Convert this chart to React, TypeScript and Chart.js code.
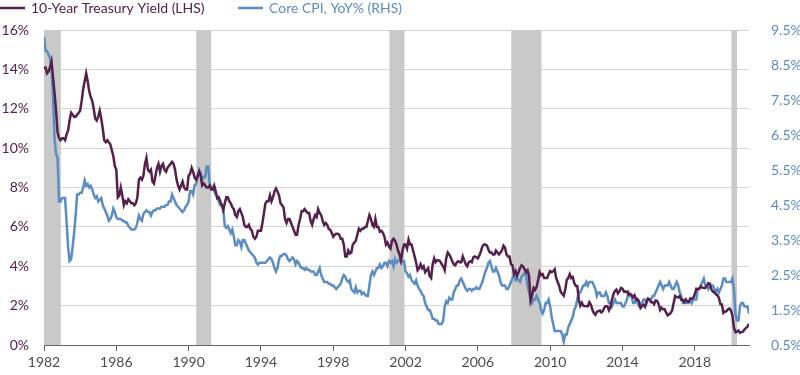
import React, { useEffect, useRef } from "react";
import { Chart, registerables } from "chart.js";

Chart.register(...registerables);

// Monthly observations, Jan 1982 .. Jan 2021
const START_YEAR = 1982;

const TREASURY_10Y = [
  14.1, 14.1, 13.8, 13.9, 14.1, 14.4, 13.6, 12.8, 11.9, 10.8, 10.5, 10.4,
  10.5, 10.5, 10.4, 10.7, 10.9, 11.4, 11.8, 11.7, 11.6, 11.6, 11.7, 11.8,
  11.9, 12.4, 13.0, 13.4, 13.8, 13.4, 12.9, 12.6, 12.4, 12.0, 11.5, 11.4,
  11.6, 11.9, 11.5, 11.0, 10.4, 10.3, 10.4, 10.3, 10.2, 9.9, 9.6, 9.1,
  8.9, 7.5, 7.6, 8.0, 7.6, 7.1, 7.3, 7.2, 7.4, 7.3, 7.2, 7.2,
  7.1, 7.2, 7.5, 8.4, 8.5, 8.4, 8.6, 9.2, 9.5, 8.9, 8.8, 8.9,
  8.3, 8.2, 8.6, 9.0, 9.2, 8.8, 9.1, 9.2, 8.9, 8.8, 9.0, 9.1,
  9.2, 9.3, 9.2, 8.9, 8.4, 8.1, 7.9, 8.1, 8.3, 8.0, 7.9, 7.9,
  8.6, 8.7, 9.0, 8.8, 8.5, 8.4, 8.6, 8.8, 8.6, 8.1, 8.2, 8.1,
  8.0, 8.0, 8.1, 7.9, 7.9, 8.1, 7.8, 7.45, 7.5, 7.3, 7.1, 6.85,
  7.2, 7.5, 7.5, 7.3, 7.2, 7.0, 6.9, 6.6, 6.5, 6.8, 6.9, 6.7,
  6.5, 6.1, 6.0, 6.0, 6.1, 5.9, 5.8, 5.5, 5.4, 5.5, 5.8, 5.8,
  5.8, 6.2, 6.7, 7.2, 7.3, 7.3, 7.6, 7.3, 7.5, 7.8, 7.95, 7.8,
  7.6, 7.2, 7.1, 7.0, 6.4, 6.2, 6.4, 6.4, 6.2, 6.0, 5.8, 5.6,
  5.6, 6.1, 6.4, 6.8, 6.8, 6.9, 6.8, 6.7, 6.7, 6.3, 6.1, 6.4,
  6.6, 6.5, 6.9, 6.7, 6.6, 6.3, 6.1, 6.2, 6.1, 5.9, 5.85, 5.7,
  5.5, 5.6, 5.65, 5.65, 5.6, 5.4, 5.4, 5.1, 4.5, 4.5, 4.8, 4.65,
  4.7, 5.1, 5.2, 5.3, 5.6, 5.9, 5.8, 5.9, 5.9, 6.0, 6.0, 6.3,
  6.6, 6.4, 6.1, 6.0, 6.4, 6.0, 6.0, 5.75, 5.8, 5.7, 5.5, 5.1,
  5.2, 5.0, 4.9, 5.3, 5.4, 5.3, 5.1, 4.8, 4.6, 4.3, 4.8, 5.1,
  5.1, 4.9, 5.35, 5.1, 5.1, 4.8, 4.5, 4.2, 3.8, 3.9, 4.1, 3.9,
  4.0, 3.7, 3.8, 3.9, 3.5, 3.4, 4.1, 4.4, 4.2, 4.3, 4.3, 4.25,
  4.1, 4.0, 3.8, 4.4, 4.7, 4.6, 4.45, 4.25, 4.1, 4.05, 4.2, 4.25,
  4.2, 4.2, 4.5, 4.3, 4.1, 4.0, 4.2, 4.25, 4.2, 4.45, 4.5, 4.45,
  4.4, 4.55, 4.75, 5.0, 5.1, 5.1, 5.05, 4.85, 4.7, 4.7, 4.6, 4.6,
  4.8, 4.7, 4.6, 4.7, 4.8, 5.05, 4.95, 4.6, 4.5, 4.5, 4.1, 4.05,
  3.6, 3.75, 3.5, 3.7, 3.9, 4.05, 4.0, 3.85, 3.7, 3.8, 3.5, 2.25,
  2.5, 2.9, 2.8, 2.95, 3.3, 3.7, 3.55, 3.6, 3.4, 3.4, 3.4, 3.6,
  3.75, 3.7, 3.75, 3.85, 3.4, 3.2, 3.0, 2.7, 2.6, 2.5, 2.8, 3.3,
  3.4, 3.6, 3.4, 3.45, 3.15, 3.0, 3.0, 2.3, 2.0, 2.15, 2.0, 1.98,
  1.97, 1.97, 2.17, 2.05, 1.8, 1.62, 1.53, 1.68, 1.72, 1.75, 1.65, 1.72,
  1.91, 1.98, 1.96, 1.76, 1.93, 2.3, 2.58, 2.74, 2.81, 2.62, 2.72, 2.9,
  2.86, 2.71, 2.72, 2.71, 2.56, 2.6, 2.54, 2.42, 2.53, 2.3, 2.33, 2.21,
  1.88, 1.98, 2.04, 1.94, 2.2, 2.36, 2.32, 2.17, 2.17, 2.07, 2.26, 2.24,
  2.09, 1.78, 1.89, 1.81, 1.81, 1.64, 1.5, 1.56, 1.63, 1.76, 2.14, 2.49,
  2.43, 2.42, 2.48, 2.3, 2.3, 2.19, 2.32, 2.21, 2.2, 2.36, 2.35, 2.4,
  2.58, 2.86, 2.84, 2.87, 2.98, 2.91, 2.89, 2.89, 3.0, 3.15, 3.12, 2.83,
  2.71, 2.68, 2.57, 2.53, 2.4, 2.07, 2.06, 1.63, 1.7, 1.71, 1.81, 1.86,
  1.76, 1.5, 0.87, 0.66, 0.67, 0.73, 0.62, 0.65, 0.68, 0.79, 0.87, 0.93,
  1.08,
];

const CORE_CPI_YOY = [
  9.3, 8.9, 8.9, 8.8, 8.7, 8.4, 7.6, 6.4, 5.95, 5.85, 4.6, 4.6,
  4.7, 4.7, 4.7, 4.0, 3.3, 2.9, 2.95, 3.3, 3.7, 4.2, 4.8, 4.8,
  4.85, 4.85, 5.0, 5.2, 5.05, 5.1, 5.0, 5.05, 4.95, 4.8, 4.7, 4.75,
  4.6, 4.65, 4.7, 4.5, 4.4, 4.3, 4.2, 4.05, 4.1, 4.2, 4.4, 4.3,
  4.15, 4.1, 4.1, 4.1, 4.05, 4.05, 4.0, 4.0, 3.9, 3.85, 3.8, 3.8,
  3.8, 3.85, 4.0, 4.2, 4.1, 4.05, 4.25, 4.3, 4.35, 4.3, 4.3, 4.2,
  4.3, 4.35, 4.35, 4.4, 4.4, 4.4, 4.45, 4.45, 4.45, 4.5, 4.5, 4.6,
  4.6, 4.8, 4.7, 4.6, 4.5, 4.45, 4.4, 4.35, 4.3, 4.35, 4.45, 4.5,
  4.6, 4.9, 4.9, 4.8, 5.07, 5.1, 5.3, 5.5, 5.4, 5.2, 5.3, 5.3,
  5.6, 5.6, 5.1, 5.0, 5.0, 4.9, 4.8, 4.75, 4.6, 4.5, 4.5, 4.4,
  3.9, 3.85, 3.9, 3.8, 3.7, 3.8, 3.6, 3.35, 3.35, 3.5, 3.45, 3.3,
  3.5, 3.5, 3.4, 3.3, 3.2, 3.15, 3.1, 3.05, 3.0, 2.85, 2.8, 2.85,
  2.85, 2.85, 2.85, 2.85, 2.9, 2.95, 3.0, 2.95, 2.85, 2.7, 2.6, 2.7,
  2.95, 3.05, 3.05, 3.1, 3.1, 3.05, 2.95, 2.9, 2.95, 3.0, 2.95, 2.8,
  2.9, 2.85, 2.75, 2.7, 2.7, 2.65, 2.7, 2.65, 2.65, 2.6, 2.6, 2.6,
  2.5, 2.5, 2.6, 2.7, 2.5, 2.4, 2.3, 2.3, 2.3, 2.25, 2.25, 2.2,
  2.2, 2.15, 2.1, 2.15, 2.2, 2.25, 2.4, 2.5, 2.45, 2.35, 2.3, 2.35,
  2.1, 2.05, 2.0, 2.15, 2.0, 2.05, 2.05, 1.95, 2.0, 1.95, 1.9, 1.9,
  2.2, 2.5, 2.6, 2.5, 2.6, 2.7, 2.7, 2.8, 2.7, 2.75, 2.85, 2.85,
  2.75, 2.9, 2.85, 2.9, 2.75, 2.95, 2.85, 2.9, 2.95, 2.85, 2.9, 2.9,
  2.6, 2.55, 2.45, 2.5, 2.35, 2.3, 2.25, 2.35, 2.2, 2.1, 2.05, 1.95,
  1.9, 1.7, 1.6, 1.5, 1.5, 1.4, 1.25, 1.25, 1.2, 1.2, 1.1, 1.1,
  1.1, 1.2, 1.6, 1.75, 1.7, 1.85, 1.8, 1.8, 2.0, 2.1, 2.2, 2.2,
  2.35, 2.4, 2.3, 2.2, 2.1, 2.05, 2.1, 2.1, 2.05, 2.1, 2.1, 2.15,
  2.1, 2.1, 2.2, 2.3, 2.45, 2.6, 2.7, 2.85, 2.9, 2.75, 2.6, 2.6,
  2.7, 2.6, 2.5, 2.3, 2.2, 2.2, 2.2, 2.1, 2.1, 2.2, 2.3, 2.4,
  2.5, 2.35, 2.4, 2.35, 2.3, 2.45, 2.5, 2.55, 2.5, 2.2, 2.0, 1.8,
  1.7, 1.8, 1.8, 1.9, 1.8, 1.7, 1.5, 1.4, 1.5, 1.7, 1.7, 1.8,
  1.6, 1.3, 1.1, 0.9, 0.9, 0.9, 0.9, 0.9, 0.8, 0.6, 0.8, 0.8,
  1.0, 1.1, 1.2, 1.3, 1.5, 1.6, 1.8, 2.0, 2.0, 2.1, 2.2, 2.2,
  2.3, 2.2, 2.3, 2.3, 2.3, 2.2, 2.1, 1.9, 2.0, 2.0, 1.9, 1.9,
  1.9, 2.0, 1.9, 1.7, 1.7, 1.6, 1.7, 1.8, 1.7, 1.7, 1.7, 1.7,
  1.6, 1.6, 1.7, 1.8, 2.0, 1.9, 1.9, 1.7, 1.7, 1.8, 1.7, 1.6,
  1.6, 1.7, 1.8, 1.8, 1.7, 1.8, 1.8, 1.8, 1.9, 1.9, 2.0, 2.1,
  2.2, 2.3, 2.2, 2.1, 2.2, 2.2, 2.2, 2.3, 2.2, 2.1, 2.1, 2.2,
  2.3, 2.2, 2.0, 1.9, 1.7, 1.7, 1.7, 1.7, 1.7, 1.8, 1.7, 1.8,
  1.8, 1.8, 2.1, 2.1, 2.2, 2.3, 2.4, 2.2, 2.2, 2.1, 2.2, 2.2,
  2.2, 2.1, 2.0, 2.1, 2.0, 2.1, 2.2, 2.4, 2.4, 2.3, 2.3, 2.3,
  2.3, 2.4, 2.1, 1.4, 1.2, 1.2, 1.6, 1.7, 1.7, 1.6, 1.6, 1.6,
  1.4,
];

const X_TICKS = [1982, 1986, 1990, 1994, 1998, 2002, 2006, 2010, 2014, 2018];
const LEFT_TICKS = [0, 2, 4, 6, 8, 10, 12, 14, 16];
const RIGHT_TICKS = [0.5, 1.5, 2.5, 3.5, 4.5, 5.5, 6.5, 7.5, 8.5, 9.5];

// Recessions (decimal years)
const RECESSION_START = [1982.0, 1990.42, 2001.11, 2007.85, 2020.03];
const RECESSION_END = [1982.93, 1991.25, 2001.94, 2009.52, 2020.34];

const SERIES_LABELS = ["10-Year Treasury Yield (LHS)", "Core CPI, YoY% (RHS)"];
const PURPLE = "#55214c";
const BLUE = "#5b8dc2";
const FONT = "Lato, 'Open Sans', sans-serif";

const monthX = (i: number) => START_YEAR + i / 12;

const recessionPlugin = {
  id: "recessions",
  beforeDatasetsDraw(chart: any) {
    const { ctx, chartArea, scales } = chart;
    const xs = scales.x;
    ctx.save();
    ctx.fillStyle = "#c9c9c9";
    for (let i = 0; i < RECESSION_START.length; i++) {
      const x0 = xs.getPixelForValue(RECESSION_START[i]);
      const x1 = xs.getPixelForValue(RECESSION_END[i]);
      ctx.fillRect(x0, chartArea.top, x1 - x0, chartArea.bottom - chartArea.top);
    }
    ctx.restore();
  },
};

const legendPlugin = {
  id: "customLegend",
  afterDraw(chart: any) {
    const { ctx } = chart;
    const colors = [PURPLE, BLUE];
    const starts = [0, 238];
    ctx.save();
    ctx.font = `14px ${FONT}`;
    ctx.textBaseline = "middle";
    ctx.textAlign = "left";
    SERIES_LABELS.forEach((label, i) => {
      ctx.strokeStyle = colors[i];
      ctx.lineWidth = 2.5;
      ctx.beginPath();
      ctx.moveTo(starts[i], 8);
      ctx.lineTo(starts[i] + 25, 8);
      ctx.stroke();
      ctx.fillStyle = colors[i];
      ctx.fillText(label, starts[i] + 31, 8.5);
    });
    ctx.restore();
  },
};

export default function App() {
  const canvasRef = useRef<HTMLCanvasElement | null>(null);

  useEffect(() => {
    if (!canvasRef.current) return;
    const treasury = TREASURY_10Y.map((v, i) => ({ x: monthX(i), y: v }));
    const cpi = CORE_CPI_YOY.map((v, i) => ({ x: monthX(i), y: v }));

    const chart = new Chart(canvasRef.current, {
      type: "line",
      data: {
        datasets: [
          {
            label: SERIES_LABELS[0],
            data: treasury,
            yAxisID: "y",
            borderColor: PURPLE,
            borderWidth: 2.5,
            pointRadius: 0,
            tension: 0,
          },
          {
            label: SERIES_LABELS[1],
            data: cpi,
            yAxisID: "y1",
            borderColor: BLUE,
            borderWidth: 2.5,
            pointRadius: 0,
            tension: 0,
          },
        ],
      },
      options: {
        animation: false,
        responsive: false,
        maintainAspectRatio: false,
        layout: { padding: { top: 30, left: 0, right: 0, bottom: 0 } },
        plugins: {
          legend: { display: false },
          tooltip: { enabled: false },
        },
        scales: {
          x: {
            type: "linear",
            min: 1982,
            max: 2021,
            afterBuildTicks: (s: any) => {
              s.ticks = X_TICKS.map((v) => ({ value: v }));
            },
            afterFit: (s: any) => {
              s.height = 30;
            },
            ticks: {
              autoSkip: false,
              maxRotation: 0,
              padding: 3,
              color: "#4d4d4d",
              font: { family: FONT, size: 14 },
              callback: (v: any) => String(v),
            },
            grid: {
              drawOnChartArea: false,
              drawTicks: true,
              tickLength: 6,
              color: "#666666",
            },
            border: { display: true, color: "#666666", width: 1 },
          },
          y: {
            position: "left",
            min: 0,
            max: 16,
            afterBuildTicks: (s: any) => {
              s.ticks = LEFT_TICKS.map((v) => ({ value: v }));
            },
            afterFit: (s: any) => {
              s.width = 44;
            },
            ticks: {
              padding: 15,
              color: PURPLE,
              font: { family: FONT, size: 14 },
              callback: (v: any) => `${v}%`,
            },
            grid: { color: "#d4d4d4", drawTicks: false, lineWidth: 1 },
            border: { display: false },
          },
          y1: {
            position: "right",
            min: 0.5,
            max: 9.5,
            afterBuildTicks: (s: any) => {
              s.ticks = RIGHT_TICKS.map((v) => ({ value: v }));
            },
            afterFit: (s: any) => {
              s.width = 51;
            },
            ticks: {
              padding: 14,
              color: BLUE,
              font: { family: FONT, size: 14 },
              callback: (v: any) => `${Number(v).toFixed(1)}%`,
            },
            grid: { display: false, drawOnChartArea: false },
            border: { display: false },
          },
        },
      },
      plugins: [recessionPlugin, legendPlugin],
    });
    return () => chart.destroy();
  }, []);

  return (
    <div style={{ position: "fixed", left: 0, top: 0, width: 800, height: 375, background: "#fff" }}>
      <canvas ref={canvasRef} width={800} height={375} style={{ width: 800, height: 375 }} />
    </div>
  );
}
